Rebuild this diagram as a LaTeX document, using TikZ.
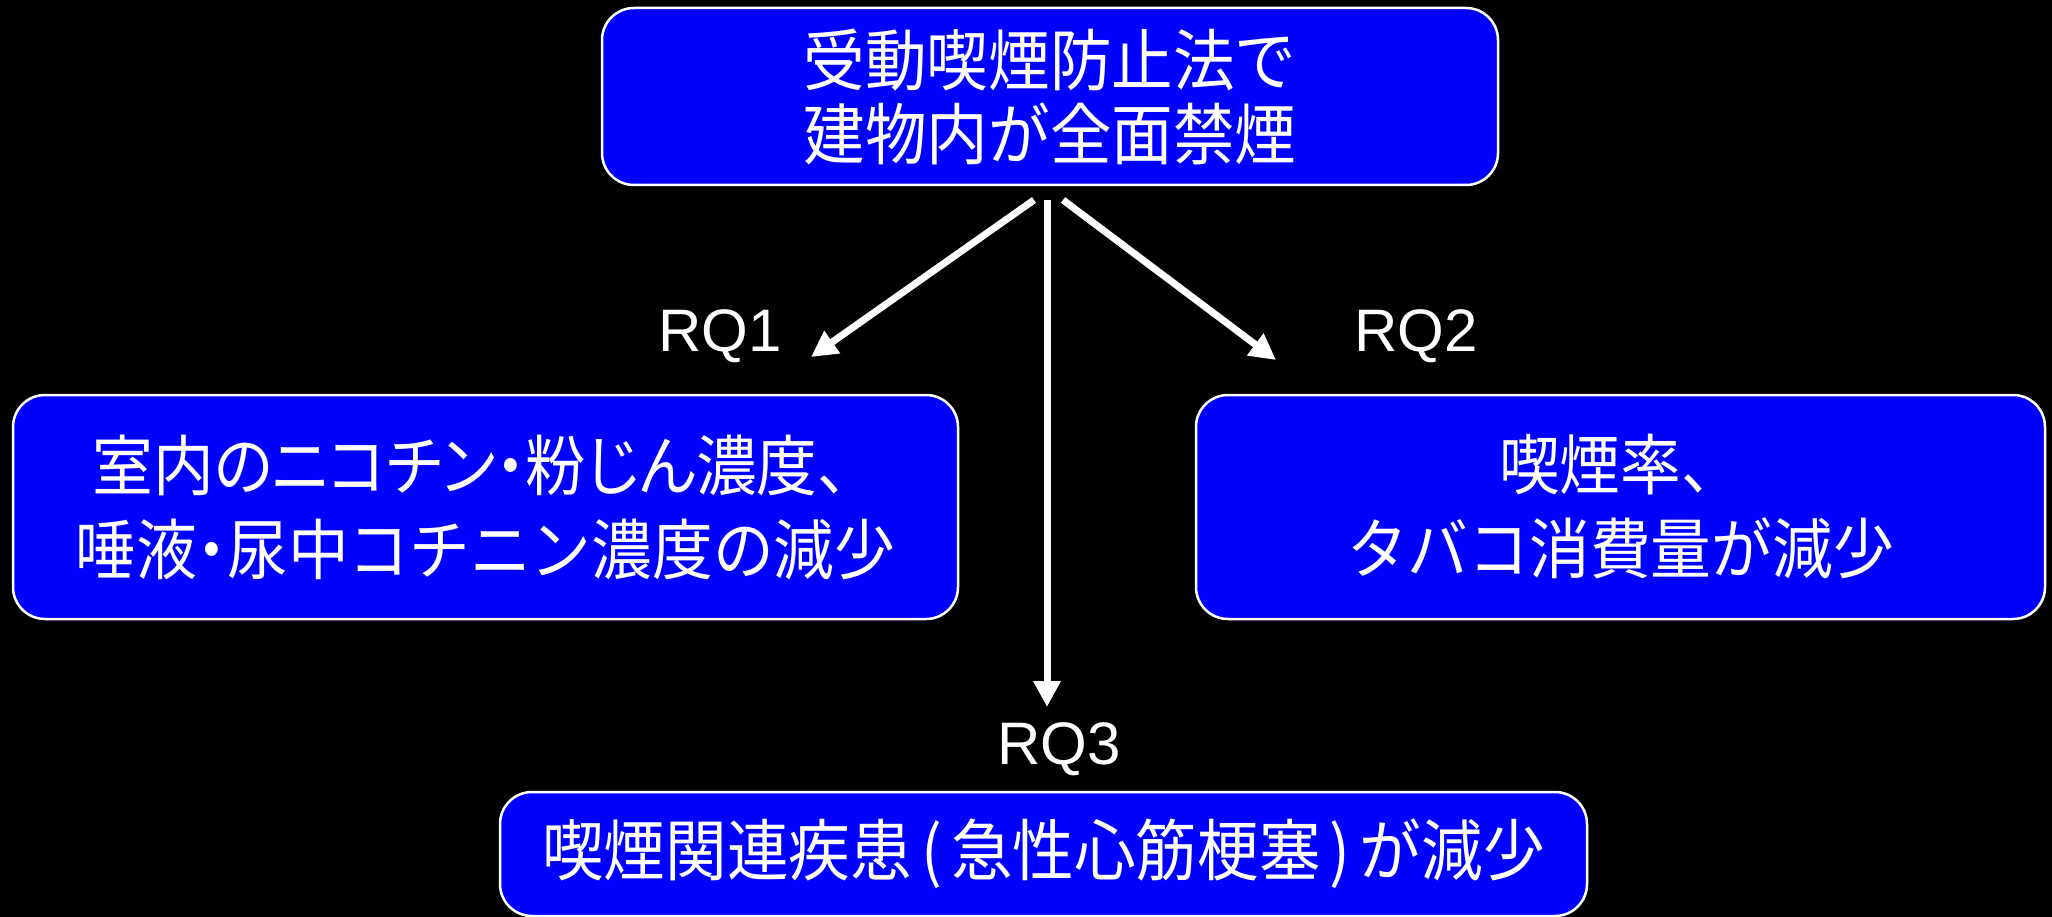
\documentclass[tikz,border=0pt]{standalone}
\usepackage{fontspec}
\newfontfamily\jpfont[FakeStretch=0.92]{Noto Sans CJK JP}
\newfontfamily\latfont{Liberation Sans}
\usetikzlibrary{arrows.meta}
\definecolor{boxblue}{RGB}{0,0,255}
\newcommand{\halfdot}{\makebox[30pt][c]{・}}
\newcommand{\lpar}{\makebox[39pt][c]{(}}
\newcommand{\rpar}{\makebox[39pt][c]{)}}
\begin{document}
\begin{tikzpicture}[x=1pt,y=-1pt,
  box/.style={draw=white, line width=2.5pt, fill=boxblue, rounded corners=32pt,
    text=white, align=center, inner sep=0pt},
  jptext/.style={font=\jpfont\fontsize{67}{74}\selectfont},
  jptextb/.style={font=\jpfont\fontsize{66}{84}\selectfont},
  rqlabel/.style={text=white, font=\latfont\fontsize{60}{70}\selectfont, inner sep=0pt},
  conn/.style={draw=white, line width=7pt, -{Triangle[length=26pt,width=26pt]}}]
\fill[black] (0,0) rectangle (2052,917);
\useasboundingbox (0,0) rectangle (2052,917);
\node[box, jptext, minimum width=896pt, minimum height=177pt] (top) at (1050,96.5)
  {受動喫煙防止法で\\建物内が全面禁煙};
\node[box, jptextb, minimum width=945pt, minimum height=224pt] (left) at (485.5,507)
  {{\addfontfeature{RawFeature=+palt}室内のニコチン}\halfdot{\addfontfeature{RawFeature=+palt}粉じん}濃度、\\唾液\halfdot 尿中コチニン濃度の減少};
\node[box, jptextb, minimum width=849pt, minimum height=224pt] (right) at (1620.5,507)
  {喫煙率、\\タバコ消費量が減少};
\node[box, jptext, minimum width=1087pt, minimum height=124pt] (bottom) at (1043.5,854)
  {喫煙関連疾患\lpar 急性心筋梗塞\rpar が減少};
\node[rqlabel] (rq1) at (720,336) {RQ1};
\node[rqlabel] (rq2) at (1416,336) {RQ2};
\node[rqlabel] (rq3) at (1059,749) {RQ3};
\coordinate (s1) at (1034,200);
\coordinate (e1) at (811,357);
\coordinate (s2) at (1063,200);
\coordinate (e2) at (1276,360);
\coordinate (s3) at (1047,200);
\coordinate (e3) at (1047,707);
\draw[conn] (s1) -- (e1);
\draw[conn] (s2) -- (e2);
\draw[conn] (s3) -- (e3);
\end{tikzpicture}
\end{document}
